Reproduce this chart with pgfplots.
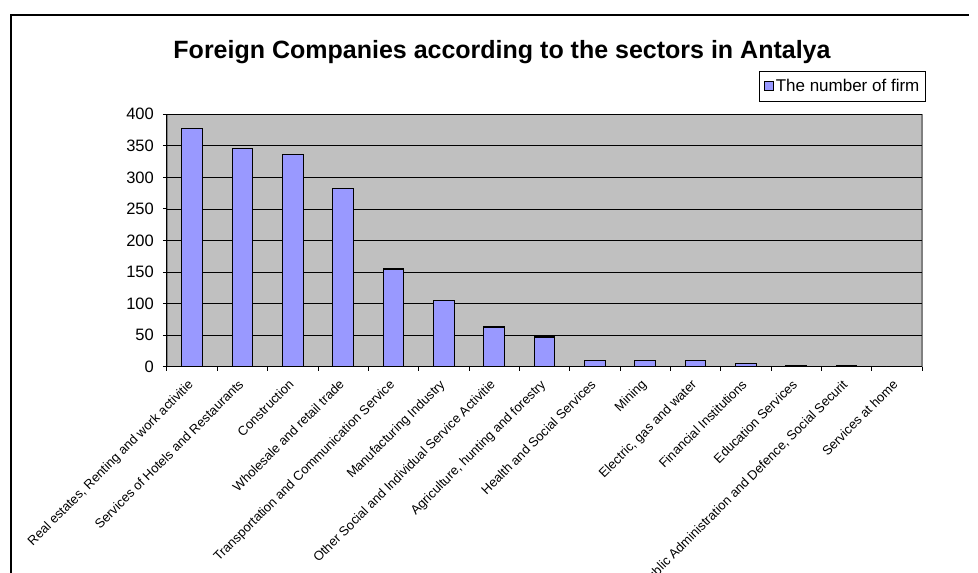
\documentclass[border=0pt]{standalone}
\usepackage{fontspec}
\setmainfont{Liberation Sans}
\usepackage{pgfplots}
\pgfplotsset{compat=1.18}
\definecolor{plotbg}{HTML}{C0C0C0}
\definecolor{barfill}{HTML}{9999FF}
\definecolor{frameg}{HTML}{808080}
\begin{document}
\begin{tikzpicture}
\path[use as bounding box] (0pt,0pt) rectangle (978pt,-573pt);
\draw[line width=1.3pt] (11pt,-580pt) -- (11pt,-15pt) -- (969pt,-15pt);
\node[font=\fontsize{25}{30}\selectfont\bfseries] at (502pt,-52pt) {Foreign Companies according to the sectors in Antalya};
\begin{axis}[
  scale only axis, width=755pt, height=252.4pt,
  at={(167pt,-366.7pt)}, anchor=south west,
  xmin=-0.5, xmax=14.5, ymin=0, ymax=400,
  ytick={0,50,...,400},
  xtick={-0.5,0.5,...,14.5},
  x tick label as interval,
  xticklabels={{Real estates, Renting and work activitie},
    Services of Hotels and Restaurants,
    Construction,
    Wholesale and retail trade,
    Transportation and Communication Service,
    Manufacturing Industry,
    Other Social and Individual Service Activitie,
    {Agriculture, hunting and forestry},
    Health and Social Services,
    Mining,
    {Electric, gas and water},
    Financial Institutions,
    Education Services,
    {Public Administration and Defence, Social Securit},
    Services at home},
  axis x line*=bottom, axis y line*=left,
  axis line style={black, line width=1pt, -},
  axis background/.style={fill=plotbg, draw=frameg, line width=1.2pt},
  ymajorgrids, major grid style={black, line width=0.9pt},
  tick align=outside, major tick length=4pt,
  tick style={black, line width=1pt},
  /pgf/number format/assume math mode=true,
  yticklabel style={font=\fontsize{16.5}{19}\selectfont, inner sep=0pt, xshift=-9pt},
  xticklabel style={font=\fontsize{13}{15}\selectfont, rotate=45, anchor=north east, inner sep=0pt, xshift=-9pt, yshift=-2pt},
  legend style={at={(1.005,1.172)}, anchor=north east, draw=black, fill=white,
    font=\fontsize{17}{20}\selectfont, inner xsep=4pt, inner ysep=6pt, line width=0.8pt},
  legend image code/.code={\draw[#1, line width=1pt] (0pt,-4.5pt) rectangle (9pt,4.5pt);},
]
\addplot[ybar, bar width=0.41, fill=barfill, draw=black, line width=1.2pt] coordinates {
  (0,378) (1,346) (2,336) (3,283) (4,155) (5,105) (6,63) (7,47)
  (8,10) (9,10) (10,10) (11,5) (12,2) (13,2) (14,0)};
\addlegendentry{The number of firm}
\end{axis}
\end{tikzpicture}
\end{document}
